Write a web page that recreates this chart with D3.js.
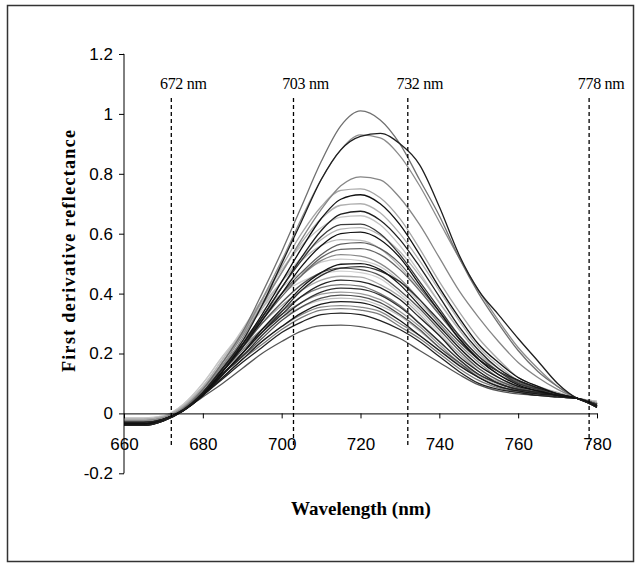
<!DOCTYPE html>
<html>
<head>
<meta charset="utf-8">
<script src="https://cdn.jsdelivr.net/npm/d3@7"></script>
<style>
  html, body { margin: 0; padding: 0; background: #fff; }
  svg { display: block; }
</style>
</head>
<body>
<svg id="chart" width="640" height="567"></svg>
<script>
// Wavelength grid (nm) shared by every spectrum
const wavelengths = [660,665,670,675,680,685,690,695,700,705,710,715,720,725,730,735,740,745,750,755,760,765,770,775,780];

// First derivative reflectance spectra, one array per sample
const s01 = [-0.03,-0.03,-0.02,0.015,0.08,0.17,0.27,0.40,0.54,0.69,0.84,0.96,1.01,0.98,0.90,0.78,0.66,0.52,0.40,0.30,0.21,0.14,0.09,0.05,0.03];
const s02 = [-0.03,-0.03,-0.02,0.01,0.07,0.15,0.24,0.36,0.50,0.64,0.78,0.88,0.925,0.935,0.90,0.83,0.69,0.53,0.41,0.33,0.25,0.175,0.10,0.05,0.028];
const s03 = [-0.03,-0.03,-0.02,0.012,0.07,0.16,0.26,0.38,0.51,0.65,0.78,0.88,0.93,0.92,0.86,0.76,0.64,0.52,0.41,0.31,0.22,0.15,0.09,0.05,0.03];
const s04 = [-0.03,-0.03,-0.02,0.012,0.07,0.15,0.25,0.36,0.47,0.58,0.68,0.76,0.79,0.78,0.72,0.63,0.52,0.41,0.32,0.24,0.17,0.12,0.08,0.05,0.03];
const s05 = [-0.025,-0.025,-0.015,0.02,0.08,0.17,0.27,0.38,0.49,0.60,0.69,0.745,0.75,0.72,0.65,0.55,0.44,0.34,0.25,0.18,0.12,0.09,0.07,0.05,0.03];
const s06 = [-0.035,-0.035,-0.02,0.01,0.065,0.14,0.23,0.33,0.44,0.55,0.65,0.715,0.73,0.70,0.63,0.53,0.42,0.32,0.23,0.17,0.12,0.09,0.065,0.05,0.025];
const s07 = [-0.02,-0.02,-0.015,0.02,0.08,0.17,0.27,0.37,0.47,0.57,0.65,0.695,0.70,0.67,0.60,0.51,0.41,0.31,0.22,0.16,0.11,0.08,0.06,0.05,0.035];
const s08 = [-0.04,-0.04,-0.025,0.01,0.065,0.14,0.22,0.32,0.42,0.52,0.61,0.665,0.675,0.645,0.58,0.49,0.39,0.29,0.21,0.15,0.11,0.085,0.065,0.05,0.02];
const s09 = [-0.02,-0.02,-0.01,0.025,0.09,0.18,0.28,0.38,0.48,0.56,0.62,0.655,0.66,0.63,0.56,0.47,0.37,0.28,0.20,0.14,0.10,0.08,0.06,0.05,0.04];
const s10 = [-0.03,-0.03,-0.02,0.012,0.07,0.15,0.23,0.32,0.42,0.51,0.59,0.63,0.632,0.60,0.53,0.44,0.35,0.26,0.19,0.14,0.10,0.08,0.06,0.05,0.03];
const s11 = [-0.035,-0.035,-0.02,0.01,0.065,0.14,0.22,0.31,0.40,0.49,0.56,0.60,0.605,0.58,0.52,0.43,0.34,0.25,0.18,0.13,0.095,0.075,0.06,0.05,0.025];
const s12 = [-0.02,-0.02,-0.01,0.025,0.09,0.18,0.27,0.36,0.44,0.51,0.56,0.58,0.578,0.55,0.49,0.41,0.33,0.25,0.18,0.13,0.10,0.08,0.06,0.05,0.035];
const s13 = [-0.03,-0.03,-0.02,0.012,0.07,0.15,0.23,0.31,0.39,0.46,0.52,0.548,0.55,0.53,0.48,0.41,0.33,0.25,0.18,0.13,0.10,0.08,0.06,0.05,0.03];
const s14 = [-0.025,-0.025,-0.015,0.018,0.08,0.16,0.24,0.32,0.40,0.46,0.51,0.53,0.525,0.50,0.45,0.38,0.30,0.23,0.17,0.12,0.09,0.075,0.06,0.05,0.03];
const s15 = [-0.04,-0.04,-0.025,0.008,0.06,0.13,0.20,0.28,0.35,0.42,0.47,0.498,0.50,0.48,0.43,0.36,0.29,0.22,0.16,0.12,0.09,0.075,0.06,0.05,0.02];
const s16 = [-0.03,-0.03,-0.02,0.012,0.07,0.15,0.22,0.30,0.37,0.43,0.47,0.485,0.48,0.46,0.41,0.35,0.28,0.21,0.15,0.11,0.085,0.07,0.06,0.05,0.03];
const s17 = [-0.015,-0.015,-0.008,0.03,0.10,0.19,0.27,0.34,0.40,0.44,0.465,0.475,0.47,0.45,0.40,0.34,0.27,0.20,0.15,0.11,0.09,0.07,0.06,0.05,0.04];
const s18 = [-0.035,-0.035,-0.02,0.01,0.065,0.13,0.20,0.27,0.33,0.39,0.43,0.445,0.44,0.42,0.38,0.32,0.26,0.19,0.14,0.10,0.08,0.07,0.06,0.05,0.025];
const s19 = [-0.03,-0.03,-0.02,0.012,0.07,0.14,0.21,0.28,0.34,0.39,0.42,0.43,0.425,0.40,0.36,0.30,0.24,0.18,0.13,0.10,0.08,0.07,0.06,0.05,0.03];
const s20 = [-0.025,-0.025,-0.015,0.018,0.08,0.15,0.22,0.28,0.33,0.37,0.398,0.405,0.40,0.38,0.34,0.29,0.23,0.17,0.13,0.10,0.08,0.07,0.06,0.05,0.035];
const s21 = [-0.03,-0.03,-0.02,0.01,0.065,0.13,0.19,0.25,0.31,0.355,0.385,0.395,0.39,0.37,0.33,0.28,0.22,0.17,0.12,0.09,0.075,0.065,0.055,0.05,0.03];
const s22 = [-0.04,-0.04,-0.025,0.008,0.06,0.12,0.18,0.24,0.29,0.335,0.365,0.373,0.37,0.35,0.31,0.26,0.21,0.16,0.12,0.09,0.075,0.065,0.06,0.05,0.02];
const s23 = [-0.03,-0.03,-0.02,0.012,0.065,0.12,0.18,0.23,0.28,0.32,0.345,0.35,0.345,0.33,0.29,0.25,0.20,0.15,0.11,0.085,0.07,0.065,0.055,0.05,0.03];
const s24 = [-0.035,-0.035,-0.02,0.01,0.06,0.115,0.17,0.22,0.27,0.305,0.33,0.335,0.33,0.31,0.28,0.24,0.19,0.14,0.10,0.08,0.07,0.06,0.055,0.05,0.025];
const s25 = [-0.03,-0.03,-0.02,0.01,0.055,0.10,0.15,0.20,0.24,0.275,0.293,0.295,0.29,0.275,0.25,0.21,0.17,0.13,0.095,0.075,0.065,0.06,0.055,0.05,0.03];
const s26 = [-0.02,-0.02,-0.012,0.022,0.085,0.17,0.26,0.35,0.44,0.52,0.58,0.615,0.62,0.595,0.54,0.46,0.37,0.28,0.20,0.15,0.11,0.085,0.065,0.05,0.035];
const s27 = [-0.03,-0.03,-0.02,0.012,0.07,0.15,0.23,0.31,0.40,0.47,0.53,0.565,0.57,0.55,0.50,0.42,0.34,0.26,0.19,0.14,0.105,0.08,0.06,0.05,0.03];
const s28 = [-0.015,-0.015,-0.008,0.03,0.10,0.19,0.27,0.35,0.42,0.47,0.505,0.515,0.51,0.49,0.44,0.37,0.30,0.22,0.16,0.12,0.09,0.075,0.06,0.05,0.04];
const s29 = [-0.02,-0.02,-0.012,0.022,0.085,0.16,0.23,0.30,0.36,0.41,0.445,0.458,0.455,0.43,0.39,0.33,0.26,0.20,0.14,0.105,0.085,0.07,0.06,0.05,0.035];
const s30 = [-0.035,-0.035,-0.02,0.01,0.065,0.13,0.19,0.26,0.32,0.37,0.405,0.418,0.415,0.395,0.355,0.30,0.24,0.18,0.13,0.10,0.08,0.07,0.06,0.05,0.025];
const s31 = [-0.02,-0.02,-0.012,0.025,0.09,0.16,0.22,0.28,0.32,0.355,0.378,0.385,0.38,0.36,0.325,0.275,0.22,0.165,0.125,0.095,0.08,0.07,0.06,0.05,0.035];
const s32 = [-0.025,-0.025,-0.015,0.015,0.07,0.13,0.19,0.24,0.29,0.33,0.355,0.36,0.355,0.34,0.30,0.26,0.21,0.16,0.12,0.09,0.075,0.065,0.055,0.05,0.03];
const s33 = [-0.035,-0.035,-0.02,0.01,0.06,0.13,0.20,0.27,0.34,0.41,0.46,0.485,0.49,0.475,0.44,0.38,0.31,0.24,0.18,0.14,0.11,0.085,0.065,0.05,0.025];

// Drawing order of the spectra (later ones sit on top)
const spectra = [s17, s28, s09, s31, s12, s26, s07, s29, s20, s05,
                 s32, s14, s04, s23, s19, s03, s01,
                 s13, s27, s16, s21, s25, s10, s30,
                 s33, s18, s24, s22, s15, s11, s08, s06, s02];
// Grey shade of each spectrum, same order
const shades  = ["#d0d0d0","#c8c8c8","#c4c4c4","#bdbdbd","#b8b8b8","#b4b4b4","#b0b0b0","#aaaaaa","#9a9a9a","#a6a6a6",
                 "#8a8a8a","#888888","#868686","#7a7a7a","#777777","#8c8c8c","#707070",
                 "#666666","#5e5e5e","#555555","#505050","#555555","#3a3a3a","#333333",
                 "#2e2e2e","#242424","#222222","#1a1a1a","#151515","#111111","#202020","#111111","#1e1e1e"];

// Marked wavelengths with their labels
const markers = [672, 703, 732, 778];
const markerLabels = ["672 nm", "703 nm", "732 nm", "778 nm"];

// Axis ticks
const xTicks = [660, 680, 700, 720, 740, 760, 780];
const yTicks = [-0.2, 0, 0.2, 0.4, 0.6, 0.8, 1, 1.2];
const yTickLabels = ["-0.2", "0", "0.2", "0.4", "0.6", "0.8", "1", "1.2"];

const svg = d3.select("#chart");

// Outer frame
svg.append("rect")
  .attr("x", 7.5).attr("y", 5.5)
  .attr("width", 626).attr("height", 556)
  .attr("fill", "none").attr("stroke", "#333").attr("stroke-width", 1.5);

const x = d3.scaleLinear().domain([660, 780]).range([124, 597]);
const y = d3.scaleLinear().domain([-0.2, 1.2]).range([473.3, 54]);

const sansFont = "'Liberation Sans', Arial, sans-serif";
const serifFont = "'Liberation Serif', 'Times New Roman', serif";

// Spectra
const line = d3.line()
  .x((d, i) => x(wavelengths[i]))
  .y(d => y(d))
  .curve(d3.curveMonotoneX);

svg.append("g")
  .selectAll("path")
  .data(spectra)
  .join("path")
  .attr("d", d => line(d))
  .attr("fill", "none")
  .attr("stroke", (d, i) => shades[i])
  .attr("stroke-width", 1.3)
  .attr("stroke-linejoin", "round");

// Y axis
const yAxis = svg.append("g")
  .attr("transform", `translate(${x(660)},0)`)
  .call(d3.axisLeft(y).tickValues(yTicks).tickSize(5).tickPadding(6)
    .tickFormat((d, i) => yTickLabels[i]));
yAxis.select(".domain").attr("d", `M-0.5,${y(1.2)}H0V${y(-0.2)}H-0.5`).attr("stroke", "#000");
yAxis.selectAll("text").attr("font-family", sansFont).attr("font-size", 17).attr("fill", "#000");

// X axis drawn along value 0
const xAxis = svg.append("g")
  .attr("transform", `translate(0,${y(0)})`)
  .call(d3.axisBottom(x).tickValues(xTicks).tickSize(5).tickSizeOuter(0)
    .tickFormat(d3.format("d")));
xAxis.select(".domain").attr("stroke", "#000");
xAxis.selectAll(".tick line").attr("stroke", "#000");
xAxis.selectAll("text")
  .attr("y", 0).attr("dy", null)
  .attr("transform", `translate(0,${450 - y(0)})`)
  .attr("font-family", sansFont).attr("font-size", 17).attr("fill", "#000");

// Dashed wavelength markers
svg.append("g")
  .selectAll("line")
  .data(markers)
  .join("line")
  .attr("x1", d => x(d)).attr("x2", d => x(d))
  .attr("y1", 98).attr("y2", 448)
  .attr("stroke", "#000").attr("stroke-width", 1.3)
  .attr("stroke-dasharray", "4,3");

svg.append("g")
  .selectAll("text")
  .data(markers)
  .join("text")
  .attr("x", d => x(d) + 12)
  .attr("y", 89)
  .attr("text-anchor", "middle")
  .attr("font-family", serifFont)
  .attr("font-size", 16)
  .attr("letter-spacing", -0.3)
  .text((d, i) => markerLabels[i]);

// Axis titles
svg.append("text")
  .attr("transform", "translate(75,251) rotate(-90)")
  .attr("text-anchor", "middle")
  .attr("font-family", serifFont)
  .attr("font-weight", "bold")
  .attr("font-size", 18)
  .attr("textLength", 242)
  .attr("lengthAdjust", "spacing")
  .text("First derivative reflectance");

svg.append("text")
  .attr("x", 361).attr("y", 515)
  .attr("text-anchor", "middle")
  .attr("font-family", serifFont)
  .attr("font-weight", "bold")
  .attr("font-size", 19)
  .text("Wavelength (nm)");
</script>
</body>
</html>
